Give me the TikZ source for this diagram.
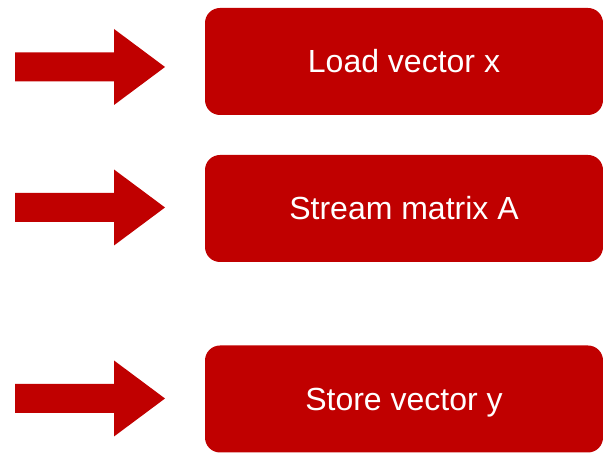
\documentclass[tikz,border=0pt]{standalone}
\usepackage{fontspec}
\setmainfont{Liberation Sans}
\definecolor{darkred}{HTML}{C00000}
\tikzset{
  stagebox/.style={fill=darkred, draw=none, rounded corners=15pt, minimum width=398pt,
    minimum height=107pt, text=white, font=\fontsize{32}{36}\selectfont, inner sep=0pt,
    text height=23pt, text depth=0pt},
  blockarrow/.style={fill=darkred, draw=none}
}
\newcommand{\blockarrowat}[2]{%
  % #1 = centre y of the arrow, #2 = name of its tip coordinate
  \fill[blockarrow] (15pt,#1-14.5pt) -- (114pt,#1-14.5pt) -- (114pt,#1-38pt)
    -- (165pt,#1) -- (114pt,#1+38pt) -- (114pt,#1+14.5pt) -- (15pt,#1+14.5pt) -- cycle;
  \coordinate (#2) at (165pt,#1);
}
\begin{document}
\begin{tikzpicture}[x=1pt,y=1pt]
  \useasboundingbox (0,0) rectangle (603,454);
  % the three stages, top to bottom
  \node[stagebox] (load)   at (404,454-61.5)  {Load vector x};
  \node[stagebox] (stream) at (404,454-208.5) {Stream matrix A};
  \node[stagebox] (store)  at (404,454-399)   {Store vector y};
  % block arrows pointing at each stage
  \blockarrowat{454-67}{aload}
  \blockarrowat{454-207.5}{astream}
  \blockarrowat{454-398.5}{astore}
\end{tikzpicture}
\end{document}
